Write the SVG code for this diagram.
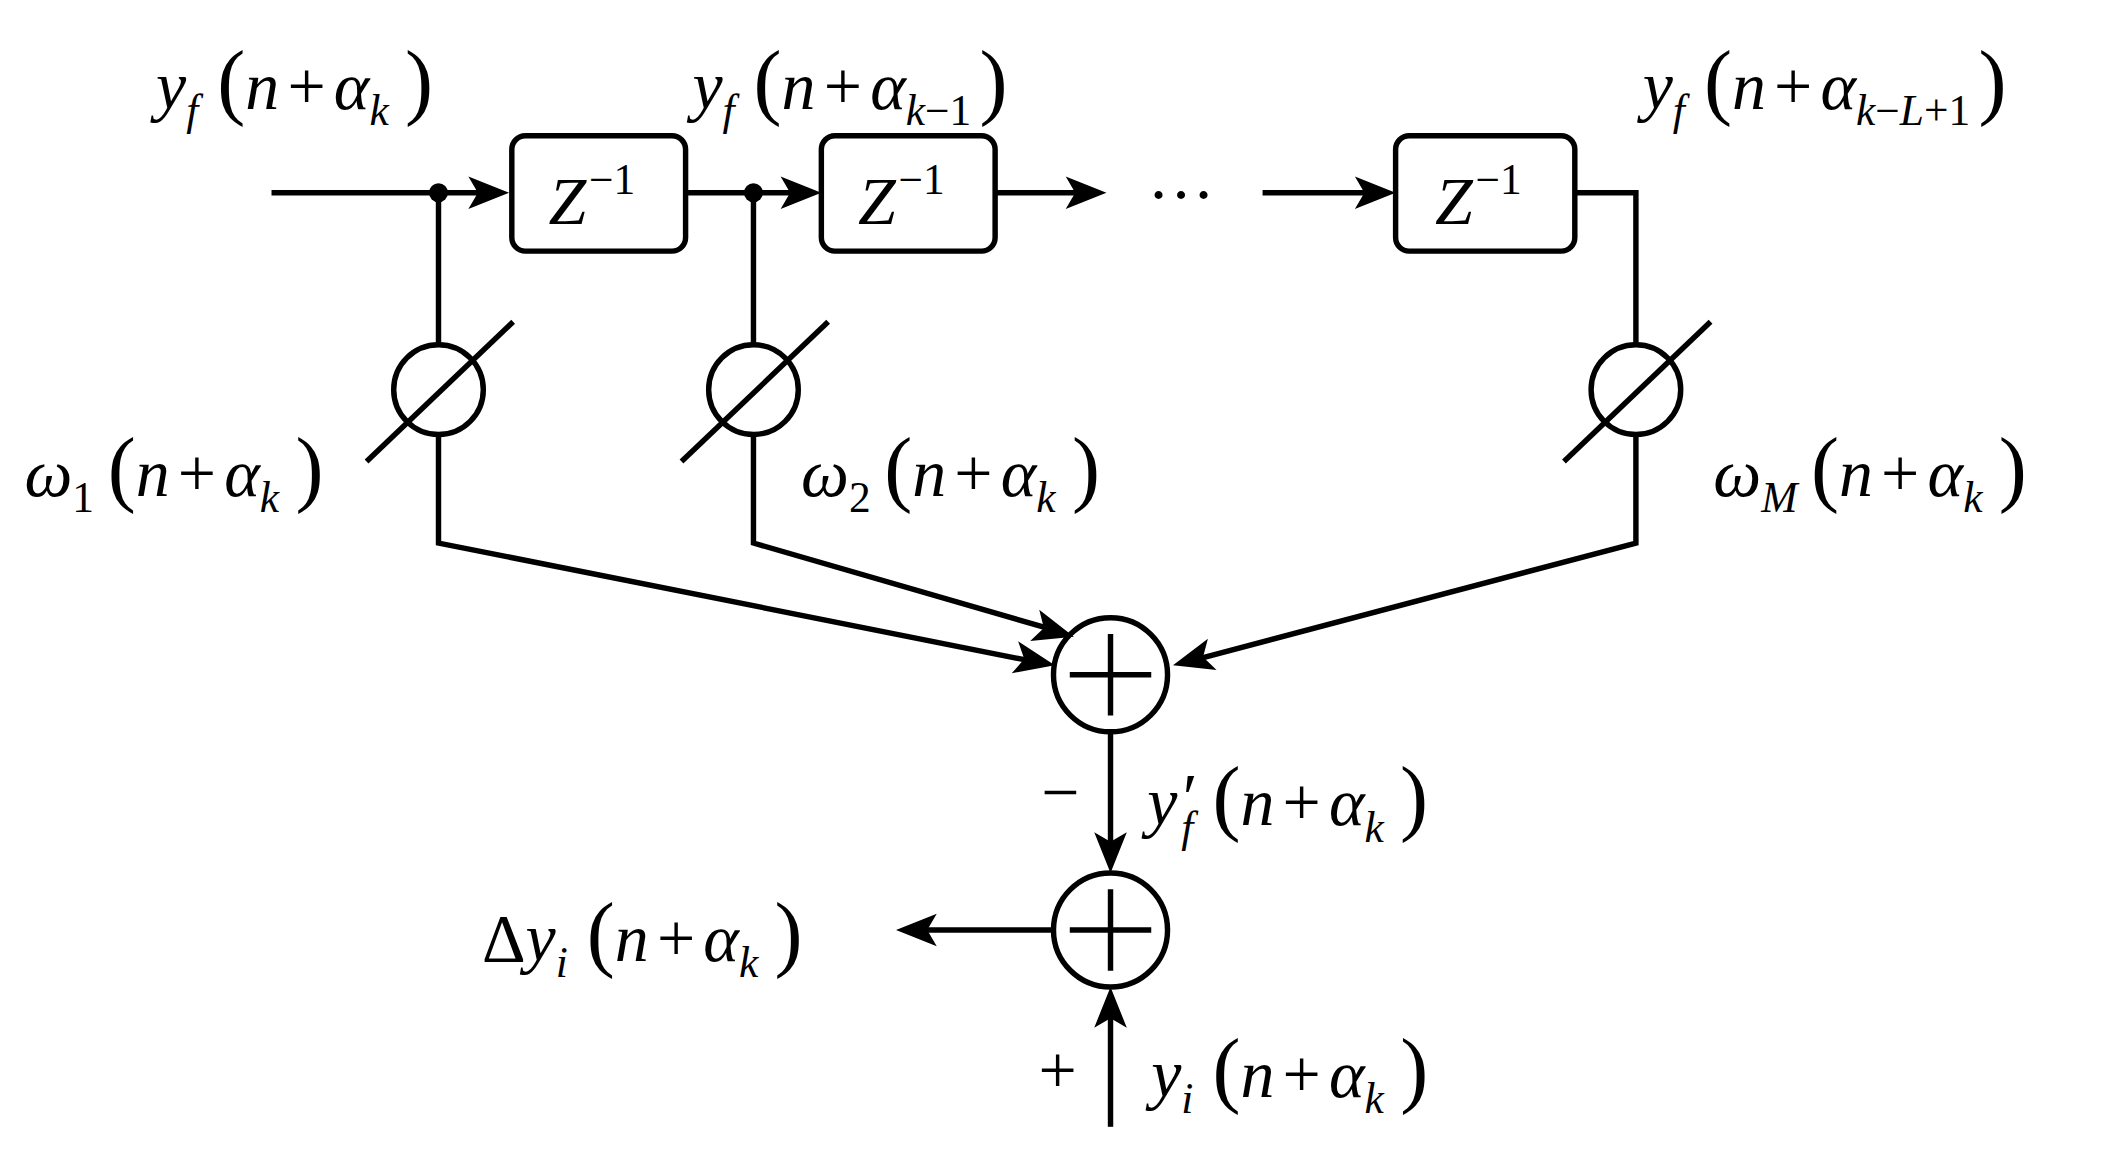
<svg xmlns="http://www.w3.org/2000/svg" width="2122" height="1154" viewBox="0 0 2122 1154">
<style>
.l{stroke:#000;stroke-width:4;fill:none}
text{font-family:'Liberation Serif','DejaVu Serif','Times New Roman',serif;font-size:50px;font-style:italic}
.u{font-style:normal}
.s{font-size:32px}
.p{font-style:normal;font-size:62px}
</style>
<rect width="2122" height="1154" fill="#fff"/>
<g transform="scale(1.3576)">
<g id="connectors">
<path class="l" d="M200,142 L360,142"/>
<path class="l" d="M505,142 L590,142"/>
<path class="l" d="M733,142 L800,142"/>
<path class="l" d="M930,142 L1012,142"/>
<path class="l" d="M1160,142 L1205,142 L1205,254"/>
<path class="l" d="M323,142 L323,254 M323,320 L323,400 L760,487"/>
<path class="l" d="M555,142 L555,254 M555,320 L555,400 L776,464"/>
<path class="l" d="M1205,320 L1205,400 L880,486"/>
<path class="l" d="M818,539 L818,625"/>
<path class="l" d="M776,685 L676,685"/>
<path class="l" d="M818,830 L818,745"/>
<g fill="#000">
<path d="M375,142 L345,130 L352,142 L345,154Z"/>
<path d="M605,142 L575,130 L582,142 L575,154Z"/>
<path d="M815,142 L785,130 L792,142 L785,154Z"/>
<path d="M1028,142 L998,130 L1005,142 L998,154Z"/>
<path d="M818,643 L806,613 L818,620 L830,613Z"/>
<path d="M660,685 L690,673 L683,685 L690,697Z"/>
<path d="M818,727 L806,757 L818,750 L830,757Z"/>
<g transform="translate(777,490) rotate(11.3)"><path d="M0,0 L-30,-12 L-23,0 L-30,12Z"/></g>
<g transform="translate(791,469) rotate(16.1)"><path d="M0,0 L-30,-12 L-23,0 L-30,12Z"/></g>
<g transform="translate(864,490) rotate(164.6)"><path d="M0,0 L-30,-12 L-23,0 L-30,12Z"/></g>
<circle cx="323" cy="142" r="7"/>
<circle cx="555" cy="142" r="7"/>
</g>
</g>
<g id="delay1"><rect class="l" x="377" y="100" width="128" height="85" rx="10"/><text x="404" y="165">Z<tspan class="u s" dy="-22" dx="2">−1</tspan></text></g>
<g id="delay2"><rect class="l" x="605" y="100" width="128" height="85" rx="10"/><text x="632" y="165">Z<tspan class="u s" dy="-22" dx="2">−1</tspan></text></g>
<g id="delay3"><rect class="l" x="1028" y="100" width="132" height="85" rx="10"/><text x="1057" y="165">Z<tspan class="u s" dy="-22" dx="2">−1</tspan></text></g>
<g id="w1"><circle class="l" cx="323" cy="287" r="33"/><path class="l" d="M270,340 L378,237"/></g>
<g id="w2"><circle class="l" cx="555" cy="287" r="33"/><path class="l" d="M502,340 L610,237"/></g>
<g id="wM"><circle class="l" cx="1205" cy="287" r="33"/><path class="l" d="M1152,340 L1260,237"/></g>
<g id="sum1"><circle class="l" cx="818" cy="497" r="42"/><path class="l" d="M818,467 L818,527 M788,497 L848,497"/></g>
<g id="sum2"><circle class="l" cx="818" cy="685" r="42"/><path class="l" d="M818,655 L818,715 M788,685 L848,685"/></g>
<text class="u" x="845" y="160">···</text>
<text x="115" y="80">y<tspan class="s" dy="12">f</tspan><tspan class="p" dy="-12" dx="14">(</tspan>n<tspan class="u" dx="6">+</tspan><tspan dx="6">α</tspan><tspan class="s" dy="12">k</tspan><tspan class="p" dy="-12" dx="12">)</tspan></text>
<text x="510" y="80">y<tspan class="s" dy="12">f</tspan><tspan class="p" dy="-12" dx="14">(</tspan>n<tspan class="u" dx="6">+</tspan><tspan dx="6">α</tspan><tspan class="s" dy="12">k<tspan class="u">−1</tspan></tspan><tspan class="p" dy="-12" dx="6">)</tspan></text>
<text x="1210" y="80">y<tspan class="s" dy="12">f</tspan><tspan class="p" dy="-12" dx="14">(</tspan>n<tspan class="u" dx="6">+</tspan><tspan dx="6">α</tspan><tspan class="s" dy="12">k<tspan class="u">−</tspan>L<tspan class="u">+1</tspan></tspan><tspan class="p" dy="-12" dx="6">)</tspan></text>
<text x="18" y="365">ω<tspan class="u s" dy="12">1</tspan><tspan class="p" dy="-12" dx="10">(</tspan>n<tspan class="u" dx="6">+</tspan><tspan dx="6">α</tspan><tspan class="s" dy="12">k</tspan><tspan class="p" dy="-12" dx="12">)</tspan></text>
<text x="590" y="365">ω<tspan class="u s" dy="12">2</tspan><tspan class="p" dy="-12" dx="10">(</tspan>n<tspan class="u" dx="6">+</tspan><tspan dx="6">α</tspan><tspan class="s" dy="12">k</tspan><tspan class="p" dy="-12" dx="12">)</tspan></text>
<text x="1262" y="365">ω<tspan class="s" dy="12">M</tspan><tspan class="p" dy="-12" dx="10">(</tspan>n<tspan class="u" dx="6">+</tspan><tspan dx="6">α</tspan><tspan class="s" dy="12">k</tspan><tspan class="p" dy="-12" dx="12">)</tspan></text>
<text class="u" x="767" y="600">−</text>
<text x="845" y="608">y<tspan class="u" dy="-4" dx="4">′</tspan><tspan class="s" dy="16" dx="-12">f</tspan><tspan class="p" dy="-12" dx="14">(</tspan>n<tspan class="u" dx="6">+</tspan><tspan dx="6">α</tspan><tspan class="s" dy="12">k</tspan><tspan class="p" dy="-12" dx="12">)</tspan></text>
<text x="355" y="708"><tspan class="u">Δ</tspan>y<tspan class="s" dy="12">i</tspan><tspan class="p" dy="-12" dx="14">(</tspan>n<tspan class="u" dx="6">+</tspan><tspan dx="6">α</tspan><tspan class="s" dy="12">k</tspan><tspan class="p" dy="-12" dx="12">)</tspan></text>
<text class="u" x="765" y="805">+</text>
<text x="848" y="808">y<tspan class="s" dy="12">i</tspan><tspan class="p" dy="-12" dx="14">(</tspan>n<tspan class="u" dx="6">+</tspan><tspan dx="6">α</tspan><tspan class="s" dy="12">k</tspan><tspan class="p" dy="-12" dx="12">)</tspan></text>
</g>
</svg>
